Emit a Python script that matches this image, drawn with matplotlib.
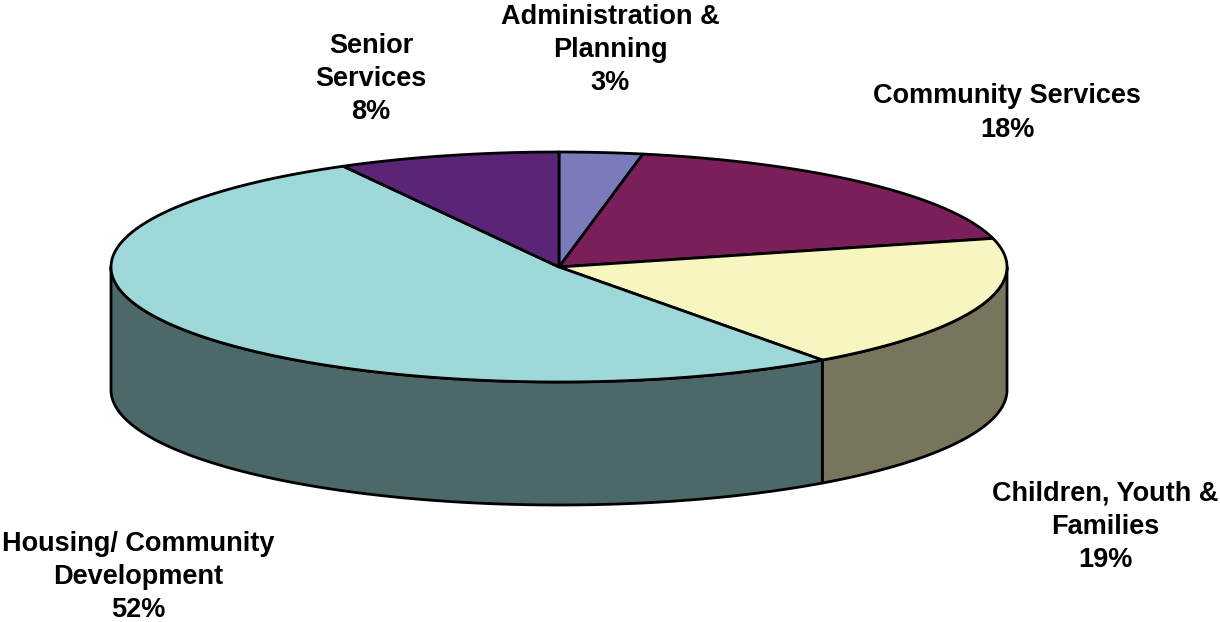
import numpy as np
import matplotlib.pyplot as plt
from matplotlib.patches import Polygon

# budget shares, clockwise from 12 o'clock
labels = ['Administration &\nPlanning', 'Community Services', 'Children, Youth &\nFamilies',
          'Housing/ Community\nDevelopment', 'Senior\nServices']
shares = [3, 18, 19, 52, 8]
top_colors = ['#7A7BBB', '#7B1F5B', '#F7F5C0', '#9ED8D8', '#5A2577']

# label anchor points (pixel space)
label_pos = [(610, 50), (1007, 113), (1105, 527), (138, 577), (371, 79)]

# pie geometry in pixels
cx, cy = 559, 267
rx, ry = 448, 115
depth = 123
shade = 0.48

plt.rcParams['font.family'] = ['Liberation Sans', 'DejaVu Sans']

fig = plt.figure(figsize=(12.2, 6.22), dpi=100)
ax = fig.add_axes([0, 0, 1, 1])
ax.set_xlim(0, 1220)
ax.set_ylim(622, 0)
ax.axis('off')


def ell(t, dy=0.0):
    t = np.radians(t)
    return np.column_stack([cx + rx * np.cos(t), cy - ry * np.sin(t) + dy])


def darker(c, f):
    rgb = np.array([int(c[i:i + 2], 16) for i in (1, 3, 5)]) / 255.0
    return tuple(rgb * f)


# slice boundaries in counter-clockwise degrees
cum = np.concatenate([[0], np.cumsum(shares)]) / sum(shares)
bounds = 90 - 360 * cum
slices = [(bounds[i + 1], bounds[i]) for i in range(len(shares))]

# side walls (front half only: -180..0 and its 360 shifts)
for (lo, hi), col in zip(slices, top_colors):
    for k in (-1, 0, 1):
        a = max(lo, -180 + 360 * k)
        b = min(hi, 0 + 360 * k)
        if b <= a:
            continue
        t = np.linspace(a, b, 120)
        pts = np.vstack([ell(t), ell(t[::-1], depth)])
        ax.add_patch(Polygon(pts, closed=True, facecolor=darker(col, shade),
                             edgecolor='black', linewidth=2.0, joinstyle='round'))

# top faces
for (lo, hi), col in zip(slices, top_colors):
    t = np.linspace(lo, hi, 200)
    pts = np.vstack([[cx, cy], ell(t)])
    ax.add_patch(Polygon(pts, closed=True, facecolor=col,
                         edgecolor='black', linewidth=2.0, joinstyle='round'))

for name, v, (x, y) in zip(labels, shares, label_pos):
    ax.text(x, y, f'{name}\n{v}%', ha='center', va='center', fontsize=19.5,
            fontweight='bold', color='black', linespacing=1.36)

fig.savefig('out.png', dpi=100, facecolor='white')
